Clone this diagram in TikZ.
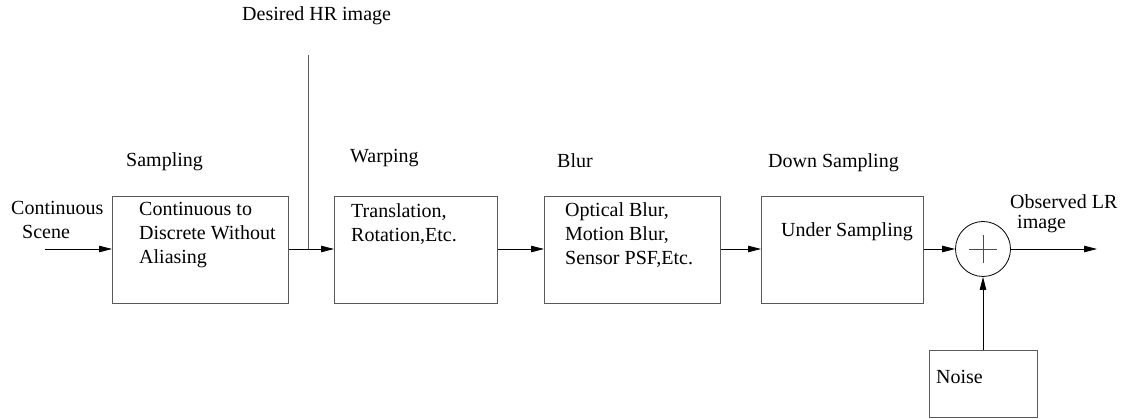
\documentclass[tikz,border=0pt]{standalone}
\usepackage{fontspec}
\setmainfont{Liberation Serif}
\usetikzlibrary{arrows.meta,calc}
\begin{document}
\begin{tikzpicture}[x=1pt,y=-1pt,
  font=\fontsize{20}{24}\selectfont,
  block/.style={draw=black!65, line width=1pt, minimum width=#1, minimum height=107pt,
    inner sep=0pt, anchor=north west},
  lbl/.style={inner sep=0pt, anchor=base west},
  txt/.style={inner sep=0pt, anchor=north west, align=left},
  flow/.style={draw=black, line width=0.8pt, -{Triangle[length=13pt,width=6.5pt]}},
  feed/.style={draw=black!65, line width=1pt}]
\useasboundingbox (0,0) rectangle (1128,419);

% processing blocks
\node[block=176pt] (samp) at (112,196) {};
\node[block=163pt] (warp) at (334,196) {};
\node[block=176pt] (blur) at (544,196) {};
\node[block=162pt] (down) at (761,196) {};
\node[draw=black!65, line width=1pt, minimum width=108pt, minimum height=67pt,
      inner sep=0pt, anchor=north west] (noise) at (929,350) {};
\node[draw=black, line width=0.8pt, circle, minimum size=55pt, inner sep=0pt] (sum) at (983,249) {};
\draw[black!70, line width=0.8pt] ($(sum.center)+(-14,0)$) -- ($(sum.center)+(14,0)$)
  ($(sum.center)+(0,-14)$) -- ($(sum.center)+(0,14)$);

% texts inside the blocks
\node[txt] (sampt) at (139,202.5) {Continuous to\\Discrete Without\\Aliasing};
\node[txt] (warpt) at (351,203) {Translation,\\Rotation,Etc.};
\node[txt] (blurt) at (565,202.5) {Optical Blur,\\Motion Blur,\\Sensor PSF,Etc.};
\node[lbl] (downt) at (781,237) {Under Sampling};
\node[lbl] (noiset) at (936,384) {Noise};

% stage titles
\node[lbl] (hrl) at (242,21) {Desired HR image};
\node[lbl] (sampl) at (126,167) {Sampling};
\node[lbl] (warpl) at (350,163) {Warping};
\node[lbl] (blurl) at (557,168) {Blur};
\node[lbl] (downl) at (768,168) {Down Sampling};
\node[txt] (inl) at (11,201.5) {Continuous\\\hspace*{11pt}Scene};
\node[txt] (outl) at (1010,194.5) {Observed LR\\[-4pt]\hspace*{7pt}image};

% signal path
\coordinate (src) at (45,249);
\coordinate (sink) at (1097,249);
\coordinate (hrtop) at (308,55);
\coordinate (hrtap) at (308,249);
\draw[flow] (src) -- (src -| samp.west);
\draw[flow] (samp.east |- src) -- (warp.west |- src);
\draw[feed] (hrtop) -- (hrtap);
\draw[flow] (warp.east |- src) -- (blur.west |- src);
\draw[flow] (blur.east |- src) -- (down.west |- src);
\draw[flow] (down.east |- src) -- (sum.west);
\draw[flow] (sum.east) -- (sink);
\draw[flow] (noise.north -| sum) -- (sum.south);
\end{tikzpicture}
\end{document}
